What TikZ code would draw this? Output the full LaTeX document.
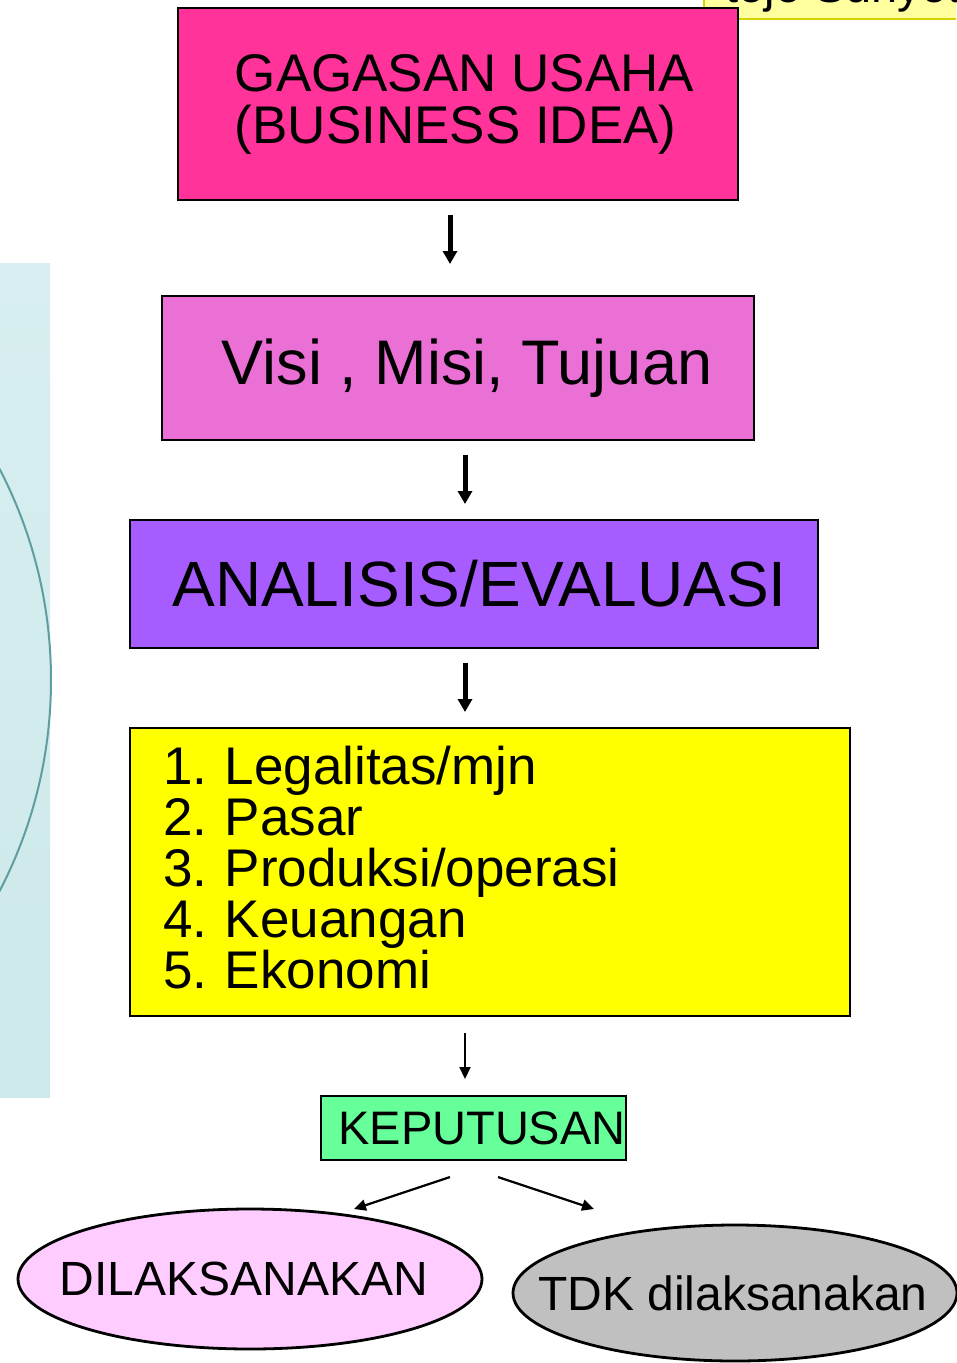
\documentclass[tikz,border=0pt]{standalone}
\usepackage{fontspec}
\setmainfont{Liberation Sans}
\usetikzlibrary{arrows.meta,shapes.geometric}
\tikzset{
  box/.style={draw, line width=2.5pt, inner sep=0pt},
  oval/.style={draw, ellipse, line width=2.8pt, inner sep=0pt},
  arr/.style={line width=5pt, -{Triangle[width=14pt,length=13pt]}},
  thinarr/.style={line width=2.2pt, -{Triangle[width=11pt,length=12pt]}},
}
\definecolor{gagasanpink}{RGB}{255,51,153}
\definecolor{visipink}{RGB}{234,112,214}
\definecolor{analisispurple}{RGB}{166,92,255}
\definecolor{listyellow}{RGB}{255,255,0}
\definecolor{putusgreen}{RGB}{102,255,153}
\definecolor{yapink}{RGB}{255,204,255}
\definecolor{tdkgrey}{RGB}{192,192,192}
\definecolor{notefill}{RGB}{255,255,160}
\definecolor{noteline}{RGB}{210,210,0}
\definecolor{panelteal}{RGB}{95,158,160}
\definecolor{paneltop}{RGB}{216,238,240}
\definecolor{panelmid}{RGB}{180,225,225}
\definecolor{panelbot}{RGB}{205,233,234}
\begin{document}
\frenchspacing
\begin{tikzpicture}[x=1pt,y=-1pt]
\useasboundingbox (0,0) rectangle (956,1363);

% side panel
\shade[top color=paneltop, middle color=panelmid, bottom color=panelbot]
  (0,263) rectangle (50,1097);
\begin{scope}
\clip (0,263) rectangle (52,1097);
\draw[panelteal, line width=2pt] (-407,680) circle (458);
\end{scope}

% note in the corner
\begin{scope}
\clip (0,0) rectangle (956,1363);
\node[draw=noteline, fill=notefill, line width=2pt, anchor=south west,
  minimum width=300, minimum height=60, inner sep=0pt] (note) at (703,20) {};
\node[anchor=base west, font=\fontsize{47}{50}\selectfont] (notetext) at (722,2) {tojo Sunyoto};
\end{scope}

\node[box, fill=gagasanpink, minimum width=560, minimum height=192, align=left,
  font=\fontsize{53}{52}\selectfont] (gagasan) at (458,104)
  {\hspace*{13pt}GAGASAN USAHA\\\hspace*{13pt}(BUSINESS IDEA)};
\node[box, fill=visipink, minimum width=592, minimum height=144,
  font=\fontsize{63}{63}\selectfont] (visi) at (458,368) {\hspace*{18pt}Visi , Misi, Tujuan};
\node[box, fill=analisispurple, minimum width=688, minimum height=128,
  font=\fontsize{64}{64}\selectfont] (analisis) at (474,584) {\hspace*{11pt}ANALISIS/EVALUASI};
\node[box, fill=listyellow, minimum width=720, minimum height=288, align=left,
  text width=654, font=\fontsize{53}{51}\selectfont] (aspek) at (490,872)
  {1. Legalitas/mjn\\2. Pasar\\3. Produksi/operasi\\4. Keuangan\\5. Ekonomi\\[-41pt]\mbox{}};
\node[box, fill=putusgreen, minimum width=305, minimum height=64,
  font=\fontsize{47}{47}\selectfont] (putus) at (473.5,1128) {\hspace*{17pt}KEPUTUSAN};
\node[oval, fill=yapink, minimum width=464, minimum height=140,
  font=\fontsize{48}{48}\selectfont] (ya) at (250,1279)
  {\makebox[0pt]{\hspace*{-12pt}\raisebox{-3pt}{DILAKSANAKAN}}};
\node[oval, fill=tdkgrey, minimum width=444, minimum height=136,
  font=\fontsize{48}{48}\selectfont] (tdk) at (735,1293)
  {\makebox[0pt]{\hspace*{-4pt}\raisebox{-3pt}{TDK dilaksanakan}}};

% arrows
\coordinate (a1) at (450,215);
\coordinate (b1) at (450,264);
\coordinate (a2) at (465,455);
\coordinate (b2) at (465,504);
\coordinate (a3) at (465,663);
\coordinate (b3) at (465,712);
\coordinate (a4) at (465,1033);
\coordinate (b4) at (465,1079);
\coordinate (a5) at (450,1177);
\coordinate (b5) at (354,1209);
\coordinate (a6) at (498,1177);
\coordinate (b6) at (594,1209);
\draw[arr] (a1) -- (b1);
\draw[arr] (a2) -- (b2);
\draw[arr] (a3) -- (b3);
\draw[thinarr] (a4) -- (b4);
\draw[thinarr] (a5) -- (b5);
\draw[thinarr] (a6) -- (b6);
\end{tikzpicture}
\end{document}
